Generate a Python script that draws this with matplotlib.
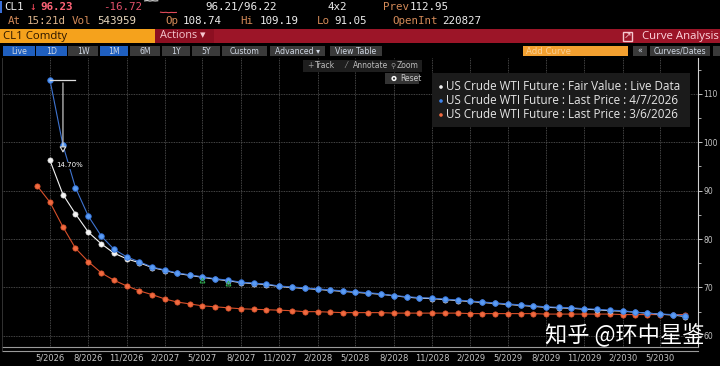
import matplotlib
matplotlib.use("Agg")
import matplotlib.pyplot as plt
from matplotlib.patches import Rectangle, Circle
import pandas as pd

# ---- data ----
months_mar06 = pd.date_range("2026-04-01", periods=52, freq="MS")
months_apr07 = pd.date_range("2026-05-01", periods=51, freq="MS")
months_live = pd.date_range("2026-05-01", periods=51, freq="MS")

last_mar06 = [90.9, 87.6, 82.5, 78.1, 75.3, 73.0, 71.5, 70.3, 69.3,
              68.5, 67.6, 67.0, 66.6, 66.2, 66.0, 65.8, 65.6, 65.5, 65.4, 65.3, 65.2,
              65.0, 65.0, 64.9, 64.8, 64.8, 64.8, 64.8, 64.7, 64.7, 64.7, 64.7, 64.7,
              64.7, 64.6, 64.6, 64.6, 64.6, 64.6, 64.6, 64.5, 64.5, 64.5, 64.5, 64.5,
              64.5, 64.4, 64.4, 64.4, 64.4, 64.4, 64.4]
last_apr07 = [112.82, 99.4, 90.6, 84.7, 80.6, 77.9, 76.3, 75.3,
              74.2, 73.6, 73.0, 72.6, 72.2, 71.8, 71.5, 71.1, 70.9, 70.7, 70.3, 70.1,
              69.9, 69.7, 69.5, 69.3, 69.1, 68.9, 68.7, 68.3, 68.1, 67.9, 67.8, 67.6,
              67.4, 67.2, 67.0, 66.8, 66.6, 66.4, 66.2, 66.0, 65.9, 65.8, 65.6, 65.5,
              65.3, 65.2, 64.9, 64.7, 64.5, 64.4, 64.1]
fair_live = [96.23, 89.2, 85.2, 81.4, 79.0, 77.1, 75.9, 75.1,
             74.1, 73.5, 72.9, 72.5, 72.1, 71.7, 71.4, 71.0, 70.8, 70.6, 70.2, 70.0,
             69.8, 69.6, 69.4, 69.2, 69.0, 68.8, 68.6, 68.3, 68.0, 67.8, 67.7, 67.5,
             67.3, 67.1, 66.9, 66.7, 66.5, 66.3, 66.1, 65.9, 65.8, 65.7, 65.5, 65.4,
             65.2, 65.1, 64.9, 64.7, 64.5, 64.3, 64.0]

event_months = pd.to_datetime(["2027-05-01", "2027-07-01"])
event_values = [71.6, 71.0]

xtick_labels = ["5/2026", "8/2026", "11/2026", "2/2027", "5/2027", "8/2027",
                "11/2027", "2/2028", "5/2028", "8/2028", "11/2028", "2/2029",
                "5/2029", "8/2029", "11/2029", "2/2030", "5/2030"]
yticks_major = [60, 70, 80, 90, 100, 110]
yticks_minor = [65, 75, 85, 95, 105, 115]

legend_labels = ["US Crude WTI Future : Fair Value : Live Data",
                 "US Crude WTI Future : Last Price : 4/7/2026",
                 "US Crude WTI Future : Last Price : 3/6/2026"]

# intraday sparkline next to the quote: first part white, after the gap down red
spark_vals = [112.7, 113.1, 112.5, 113.0, 112.6, 112.9, 96.6, 96.1, 96.4, 95.9, 96.3, 96.1, 96.2]

BLUE, BLUE_EDGE = "#5b9cf4", "#2f6fd6"
ORANGE, ORANGE_EDGE = "#f06a40", "#d8502a"
WHITE = "#f4f4f4"
TAN, VAL = "#d38a58", "#ececec"
MONO = ["DejaVu Sans Mono"]
NARROW = ["Liberation Sans Narrow", "DejaVu Sans"]
SANS = ["Open Sans", "DejaVu Sans"]

W, H = 720, 366
fig = plt.figure(figsize=(W / 100, H / 100), dpi=100, facecolor="black")

# ---- chart ----
ax_l, ax_r, ax_t, ax_b = 2, 698, 58, 347
ax = fig.add_axes([ax_l / W, 1 - ax_b / H, (ax_r - ax_l) / W, (ax_b - ax_t) / H])
ax.set_facecolor("black")

ax.plot(months_mar06, last_mar06, color=ORANGE_EDGE, lw=0.8, marker="o", ms=3.8,
        mfc=ORANGE, mec=ORANGE_EDGE, mew=0.5, zorder=3)
ax.plot(months_live, fair_live, color=WHITE, lw=0.8, marker="o", ms=3.8,
        mfc=WHITE, mec="#cfcfcf", mew=0.4, zorder=4)
ax.plot(months_apr07, last_apr07, color="#3f74d0", lw=0.8, marker="o", ms=4.0,
        mfc=BLUE, mec=BLUE_EDGE, mew=0.6, zorder=5)
ax.plot(event_months, event_values, ls="none", marker="^", ms=3.5, mfc="none",
        mec="#2fb050", mew=0.7, zorder=6)

# spread annotation between the 4/7 curve and the live front month
top = last_apr07[0]
pct = (last_apr07[0] - fair_live[0]) / last_apr07[0] * 100
ax.plot([months_apr07[0], months_apr07[2]], [top, top], color="#dddddd", lw=0.9, zorder=6)
ax.annotate("", xy=(months_apr07[1], fair_live[0] + 1.0), xytext=(months_apr07[1], top),
            arrowprops=dict(arrowstyle="-|>,head_length=0.35,head_width=0.2",
                            color="#dddddd", fc="black", lw=0.8), zorder=6)
ax.text(months_apr07[0] + pd.Timedelta(days=14), fair_live[0] - 1.0, f"{pct:.2f}%",
        color="white", fontsize=5, family=NARROW, va="center", zorder=7,
        bbox=dict(boxstyle="square,pad=0.1", fc="black", ec="none"))

xt = pd.to_datetime(xtick_labels, format="%m/%Y")
ax.set_xticks(xt)
ax.set_xticklabels(xtick_labels)
ax.set_xlim(pd.Timestamp("2026-01-06"), pd.Timestamp("2030-07-31"))
ax.set_ylim(57.7, 117.4)
ax.yaxis.tick_right()
ax.set_yticks(yticks_major)
ax.set_yticks(yticks_minor, minor=True)
ax.tick_params(axis="x", length=0, pad=5, labelsize=6, colors="#c4c4c4")
ax.tick_params(axis="y", which="major", direction="out", length=3, width=0.7,
               pad=1, labelsize=5.5, colors="#c4c4c4")
ax.tick_params(axis="y", which="minor", direction="out", length=2, width=0.6,
               colors="#c4c4c4")
for lab in ax.get_xticklabels() + ax.get_yticklabels():
    lab.set_family(NARROW)
ax.grid(True, which="major", color="#5c5c5c", lw=0.6, ls=(0, (1, 1)))
for side in ["top", "left"]:
    ax.spines[side].set_visible(False)
ax.spines["right"].set_color("#d0d0d0")
ax.spines["right"].set_linewidth(0.8)
ax.spines["bottom"].set_color("#9a9a9a")
ax.spines["bottom"].set_linewidth(0.8)

# sparkline in header
sp = fig.add_axes([143 / W, 1 - 14 / H, 35 / W, 14 / H])
sp.plot(range(6), spark_vals[:6], color="white", lw=0.7)
sp.plot(range(6, len(spark_vals)), spark_vals[6:], color="#e04a5a", lw=0.8)
sp.set_ylim(94, 114)
sp.axis("off")

# ---- terminal chrome drawn in pixel coordinates ----
ov = fig.add_axes([0, 0, 1, 1], zorder=10)
ov.set_xlim(0, W)
ov.set_ylim(H, 0)
ov.axis("off")
ov.patch.set_alpha(0)


def box(x0, y0, x1, y1, color, **kw):
    ov.add_patch(Rectangle((x0, y0), x1 - x0, y1 - y0, fc=color, ec="none", **kw))


def txt(x, y, s, color, size, family=SANS, ha="left", **kw):
    ov.text(x, y, s, color=color, fontsize=size, family=family, ha=ha, va="center", **kw)


# row 1 / row 2 quote lines
box(0, 1, 2, 13, "#3a6fd8")
txt(4, 7, "CL1", VAL, 7.8, MONO)
txt(29, 7, "↓", "#ff4a5e", 7.8, MONO)
txt(40, 7, "96.23", "#ff6478", 7.8, MONO, weight="bold")
txt(103, 7, "-16.72", "#e0506a", 7.8, MONO)
txt(205, 7, "96.21/96.22", VAL, 7.8, MONO)
txt(328, 7, "4x2", VAL, 7.8, MONO)
txt(383, 7, "Prev", TAN, 7.8, MONO)
txt(410, 7, "112.95", VAL, 7.8, MONO)

txt(8, 21, "At", TAN, 7.8, MONO)
txt(27, 21, "15:21d", "#dcb48c", 7.8, MONO)
txt(72, 21, "Vol", TAN, 7.8, MONO)
txt(97, 21, "543959", "#e6d6bc", 7.8, MONO)
txt(165, 21, "Op", TAN, 7.8, MONO)
txt(183, 21, "108.74", VAL, 7.8, MONO)
txt(240, 21, "Hi", TAN, 7.8, MONO)
txt(260, 21, "109.19", VAL, 7.8, MONO)
txt(317, 21, "Lo", TAN, 7.8, MONO)
txt(334, 21, "91.05", VAL, 7.8, MONO)
txt(392, 21, "OpenInt", TAN, 7.8, MONO)
txt(442, 21, "220827", VAL, 7.8, MONO)

# row 3 title bar
box(0, 29, 155, 43, "#f5a21c")
box(155, 29, 720, 43, "#9c1528")
box(155, 29, 214, 43, "#8c0f21")
txt(3, 36, "CL1 Comdty", "#2a1600", 8.2)
txt(160, 36, "Actions ▾", "#f6c8d0", 7.8)
ov.add_patch(Rectangle((623, 31.5), 9, 9, fc="none", ec="#f6c8d0", lw=1.0))
txt(627, 35, "↗", "#f6c8d0", 6.5, ["DejaVu Sans"], ha="center")
txt(642, 36, "Curve Analysis", "#ffd6de", 8.2)

# row 4 buttons
buttons = [("Live", 3, 35, "#1f5fbf"), ("1D", 36, 67, "#1f5fbf"), ("1W", 68, 98, "#3a3a3a"),
           ("1M", 100, 128, "#1f5fbf"), ("6M", 130, 160, "#3a3a3a"), ("1Y", 162, 190, "#3a3a3a"),
           ("5Y", 192, 220, "#3a3a3a"), ("Custom", 222, 267, "#3a3a3a"),
           ("Advanced ▾", 270, 325, "#3a3a3a"), ("View Table", 330, 382, "#3a3a3a"),
           ("«", 633, 647, "#3a3a3a"), ("Curves/Dates", 650, 710, "#3a3a3a"),
           ("", 713, 720, "#3a3a3a")]
for label, x0, x1, col in buttons:
    box(x0, 46, x1, 56, col)
    txt((x0 + x1) / 2, 51, label, "#d0d8e4", 5.6, NARROW, ha="center")
box(523, 46, 628, 56, "#f2a030")
txt(526, 51, "Add Curve", "#f9cf94", 6.2, NARROW)

# chart toolbar
box(303, 60, 422, 72, "#1e1e1e")
txt(307, 66, "+", "#9a9a9a", 5.5, NARROW)
txt(315, 66, "Track", "#bdbdbd", 5.5, NARROW)
txt(345, 66, "⁄", "#9a9a9a", 5.5, ["DejaVu Sans"])
txt(353, 66, "Annotate", "#bdbdbd", 5.5, NARROW)
txt(390, 66, "⚲", "#9a9a9a", 5, ["DejaVu Sans"])
txt(397, 66, "Zoom", "#bdbdbd", 5.5, NARROW)
box(385, 73, 419, 84, "#343434")
ov.add_patch(Circle((394, 78.5), 2.6, fc="white", ec="none"))
ov.add_patch(Circle((394, 78.5), 1.1, fc="#343434", ec="none"))
txt(400, 78.5, "Reset", "#c8c8c8", 5.5, NARROW)

# legend panel
box(432, 73, 690, 127, "#1b1b1b")
for i, (lab, col) in enumerate(zip(legend_labels, [WHITE, "#3f84ec", ORANGE])):
    y = 87 + i * 14
    ov.add_patch(Circle((441, y), 1.8, fc=col, ec="none"))
    txt(446, y, lab, "#e6e6e6", 8.4)

# double rule under the plot
ov.plot([2, 698], [351, 351], color="#9a9a9a", lw=0.8)
ov.plot([2, 2], [58, 351], color="#3a3a3a", lw=0.6)

# watermark
txt(545, 335, "知乎 @环中星鉴", "white", 16, ["Noto Sans CJK SC", "DejaVu Sans"])

fig.savefig("out.png", dpi=100, facecolor="black")
